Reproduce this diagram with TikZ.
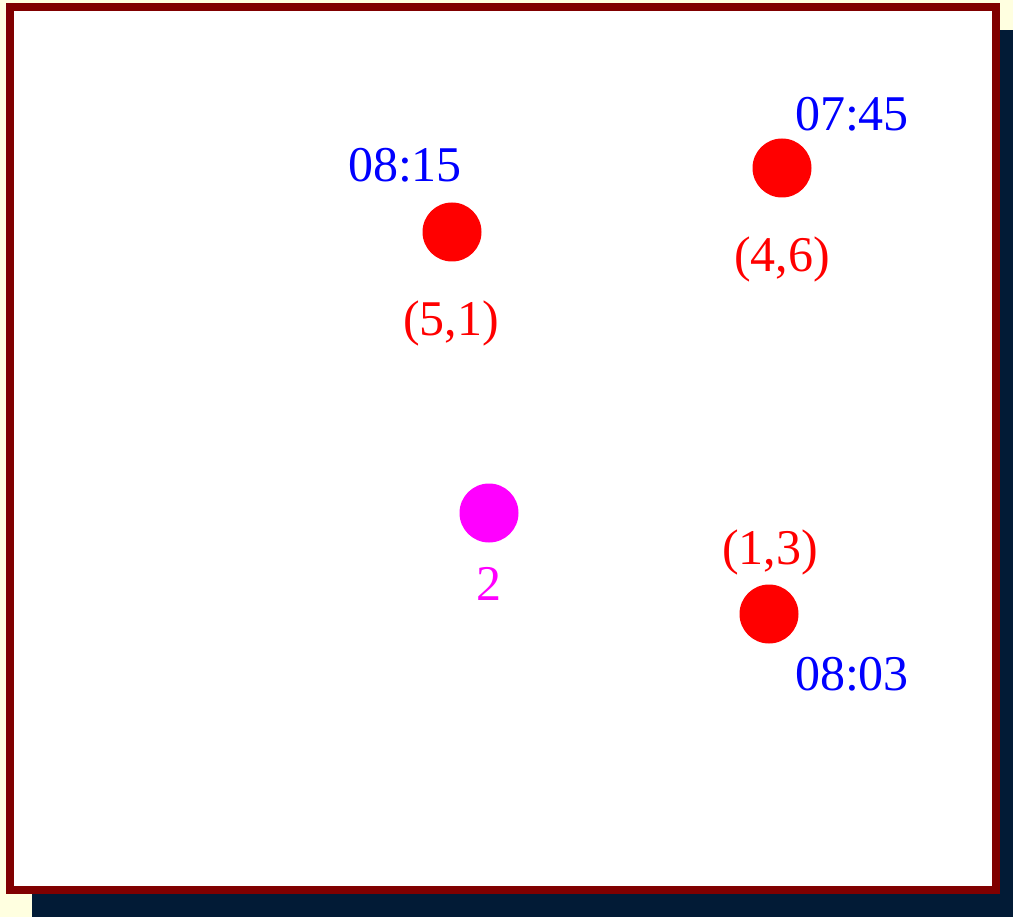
\documentclass[tikz,border=0pt]{standalone}
\usepackage{fontspec}
\setmainfont{Liberation Serif}
\definecolor{cream}{HTML}{FFFFE0}
\definecolor{shadownavy}{HTML}{021B36}
\definecolor{framered}{HTML}{800000}
\definecolor{pmag}{HTML}{FF00FF}
\definecolor{pred}{HTML}{FF0000}
\definecolor{pblue}{HTML}{0000FF}
\begin{document}
\begin{tikzpicture}[x=1pt,y=-1pt,
  dot/.style={circle,fill=#1,minimum size=59pt,inner sep=0pt},
  lbl/.style={anchor=base,inner sep=0pt,text=#1,font=\fontsize{50}{56}\selectfont}]
\useasboundingbox (0,0) rectangle (1013,917);
\fill[cream] (0,0) rectangle (1013,917);
\fill[shadownavy] (32,30) rectangle (1026,921);
\draw[framered,line width=8pt,fill=white] (10,7) rectangle (996,890);
% dots
\node[dot=pred] (a) at (452,232) {};
\node[dot=pred] (b) at (782,168) {};
\node[dot=pmag] (c) at (489,513) {};
\node[dot=pred] (d) at (769,614) {};
% labels
\node[lbl=pblue] (ta) at (405,182) {08:15};
\node[lbl=pred] (pa) at (451,336) {(5,1)};
\node[lbl=pblue] (tb) at (852,131) {07:45};
\node[lbl=pred] (pb) at (782,272) {(4,6)};
\node[lbl=pmag] (pc) at (489,600) {2};
\node[lbl=pred] (pd) at (770,564) {(1,3)};
\node[lbl=pblue] (td) at (852,690) {08:03};
\end{tikzpicture}
\end{document}
